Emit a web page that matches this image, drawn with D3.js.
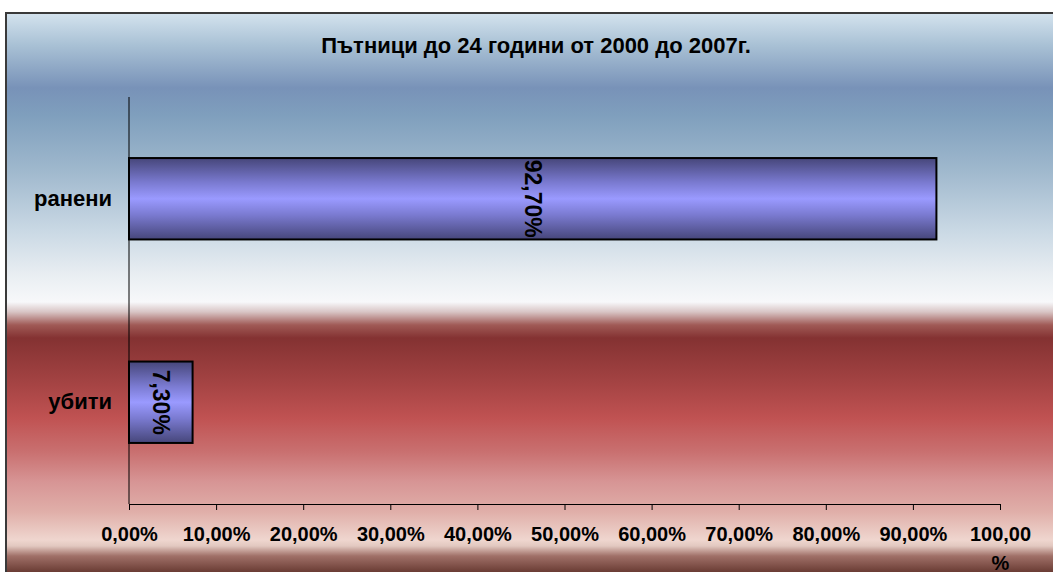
<!DOCTYPE html>
<html>
<head>
<meta charset="utf-8">
<script src="https://cdn.jsdelivr.net/npm/d3@7"></script>
<style>
  html, body { margin: 0; padding: 0; background: #ffffff; }
  svg { display: block; }
  text { font-family: "Liberation Sans", Arial, sans-serif; font-weight: bold; fill: #000; }
</style>
</head>
<body>
<svg id="chart" width="1053" height="572"></svg>
<script>
// Chart data
const title = "Пътници до 24 години от 2000 до 2007г.";
const categories = ["ранени", "убити"];
const values = [92.7, 7.3];
const valueLabels = ["92,70%", "7,30%"];
const tickValues = [0, 10, 20, 30, 40, 50, 60, 70, 80, 90, 100];
const tickLabels = ["0,00%", "10,00%", "20,00%", "30,00%", "40,00%", "50,00%", "60,00%", "70,00%", "80,00%", "90,00%", "100,00\n%"];

const W = 1053, H = 572;
const svg = d3.select("#chart");
const defs = svg.append("defs");

// Background: blue sky fading to white, then a band of deep red fading to pink
const bg = defs.append("linearGradient")
  .attr("id", "bgGrad")
  .attr("gradientUnits", "userSpaceOnUse")
  .attr("x1", 0).attr("y1", 13).attr("x2", 0).attr("y2", 572);
[
  [13, "#d4e3ee"], [45, "#a9c1d5"], [88, "#7892b8"], [115, "#7f9fbd"],
  [170, "#9fb8cd"], [230, "#c9d8e4"], [275, "#e9eef2"], [302, "#f7f8fa"],
  [312, "#d8c4c4"], [325, "#a05a56"], [338, "#843232"], [380, "#a24242"],
  [418, "#c05252"], [452, "#c97070"], [482, "#d79595"], [512, "#e0afa9"],
  [540, "#efd6cf"], [546, "#e2c8c0"], [556, "#a07068"], [572, "#6a3c34"]
].forEach(([y, c]) => bg.append("stop").attr("offset", ((y - 13) / (572 - 13))).attr("stop-color", c));

svg.append("rect")
  .attr("x", 6).attr("y", 13).attr("width", W).attr("height", H)
  .attr("fill", "url(#bgGrad)")
  .attr("stroke", "#3a3a3a").attr("stroke-width", 2);

// Bar fill: dark edges, light lavender centre
const bar = defs.append("linearGradient")
  .attr("id", "barGrad").attr("x1", 0).attr("y1", 0).attr("x2", 0).attr("y2", 1);
bar.append("stop").attr("offset", 0).attr("stop-color", "#46467a");
bar.append("stop").attr("offset", 0.3).attr("stop-color", "#7a7ad0");
bar.append("stop").attr("offset", 0.5).attr("stop-color", "#9a9aff");
bar.append("stop").attr("offset", 0.7).attr("stop-color", "#7a7ad0");
bar.append("stop").attr("offset", 1).attr("stop-color", "#46467a");

// Title
svg.append("text")
  .attr("x", 536).attr("y", 53)
  .attr("text-anchor", "middle")
  .attr("font-size", 22)
  .text(title);

// Plot area
const plot = { left: 129, right: 1000, top: 97, bottom: 504 };

const x = d3.scaleLinear().domain([0, 100]).range([plot.left, plot.right]);
const y = d3.scaleBand().domain(categories).range([plot.top, plot.bottom])
  .paddingInner(0.6).paddingOuter(0.3);

// Category axis (vertical line with category names)
const yAxis = svg.append("g").attr("transform", `translate(${plot.left},0)`)
  .call(d3.axisLeft(y).tickSize(0).tickPadding(17));
yAxis.select(".domain").attr("d", `M0,${plot.top}V${plot.bottom}`).attr("stroke", "#000").attr("stroke-width", 1);
yAxis.selectAll(".tick text")
  .attr("font-size", 22)
  .attr("font-family", "Liberation Sans, Arial, sans-serif")
  .attr("font-weight", "bold")
  .attr("fill", "#000");

// Value axis
const xAxis = svg.append("g").attr("transform", `translate(0,${plot.bottom})`)
  .call(d3.axisBottom(x).tickValues(tickValues).tickSize(6).tickPadding(14)
    .tickFormat(() => ""));
xAxis.select(".domain").attr("stroke", "#000").attr("stroke-width", 1);
xAxis.selectAll(".tick line").attr("stroke", "#000");
xAxis.selectAll(".tick").each(function (d, i) {
  const lines = tickLabels[i].split("\n");
  const t = d3.select(this).select("text")
    .attr("font-size", 20)
    .attr("font-family", "Liberation Sans, Arial, sans-serif")
    .attr("font-weight", "bold")
    .attr("fill", "#000")
    .attr("y", 23);
  lines.forEach((ln, k) => {
    t.append("tspan").attr("x", 0).attr("dy", k === 0 ? "0.71em" : "1.45em").text(ln);
  });
});

// Bars
svg.append("g").selectAll("rect")
  .data(categories)
  .join("rect")
  .attr("x", x(0))
  .attr("y", d => y(d))
  .attr("width", (d, i) => x(values[i]) - x(0))
  .attr("height", y.bandwidth())
  .attr("fill", "url(#barGrad)")
  .attr("stroke", "#000")
  .attr("stroke-width", 2);

// Value labels, rotated to read top-down inside each bar
svg.append("g").selectAll("text")
  .data(categories)
  .join("text")
  .attr("transform", (d, i) =>
    `translate(${(x(0) + x(values[i])) / 2},${y(d) + y.bandwidth() / 2}) rotate(90)`)
  .attr("text-anchor", "middle")
  .attr("dy", "0.35em")
  .attr("font-size", 23)
  .text((d, i) => valueLabels[i]);
</script>
</body>
</html>
